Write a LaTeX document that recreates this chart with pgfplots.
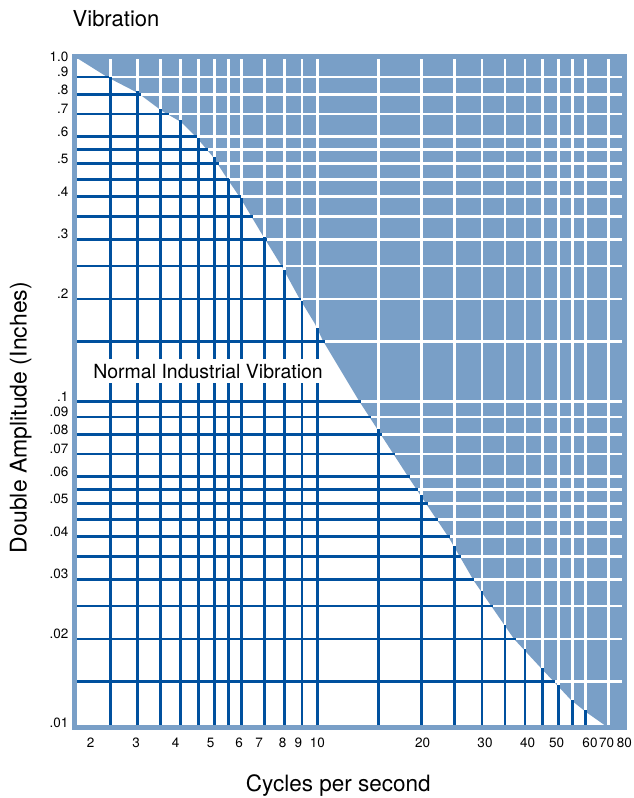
\documentclass[border=0pt]{standalone}
\usepackage{fontspec}
\setmainfont{TeX Gyre Heros}
\usepackage{pgfplots}
\pgfplotsset{compat=1.18}
\definecolor{vblue}{RGB}{121,159,199}
\definecolor{dblue}{RGB}{0,80,158}
\begin{document}
\begin{tikzpicture}
\begin{axis}[
  name=ax,
  scale only axis, width=550pt, height=671pt,
  xmode=log, ymode=log,
  xmin=1.9655, xmax=77.79, ymin=0.010986, ymax=1.0337,
  axis on top,
  axis line style={line width=5pt, draw=vblue, line join=miter},
  tick style={draw=none},
  major tick length=0pt, minor tick length=0pt,
  xtick={2.19,2.966,3.867,4.887,5.906,6.752,7.911,8.780,9.970,20.17,30.60,40.72,49.43,61.76,69.07,77.7},
  xticklabels={2,3,4,5,6,7,8,9,10,20,30,40,50,60,70,80},
  ytick={0.011,0.02,0.03,0.04,0.05,0.06,0.07,0.08,0.09,0.1,0.2,0.3,0.4,0.5,0.6,0.7,0.8,0.9,1.0},
  yticklabels={.01,.02,.03,.04,.05,.06,.07,.08,.09,.1,.2,.3,.4,.5,.6,.7,.8,.9,1.0},
  xticklabel style={font=\fontsize{13.5}{13.5}\selectfont, anchor=north, inner sep=0pt, yshift=-10.5pt},
  yticklabel style={font=\fontsize{13.5}{13.5}\selectfont, anchor=east, inner sep=0pt, xshift=-6pt, yshift=5pt},
  unbounded coords=jump,
]
\coordinate (sw) at (rel axis cs:0,0);
\coordinate (ne) at (rel axis cs:1,1);
\coordinate (nw) at (rel axis cs:0,1);

% severe region (above the boundary curve)
\addplot[fill=vblue, draw=none] coordinates {
 (1.9655,1.0337) (2.459,0.8967) (3.005,0.8073) (3.529,0.7146) (4.007,0.6633)
 (4.460,0.5952) (4.964,0.5234) (5.488,0.4479) (5.985,0.3938) (6.797,0.3171)
 (7.911,0.2468) (8.762,0.2042) (9.818,0.1689) (10.357,0.1506) (13.18,0.1003)
 (18.41,0.0595) (24.05,0.03966) (28.43,0.02962) (37.15,0.02001) (44.21,0.01655)
 (49.20,0.01475) (54.40,0.01323) (60.13,0.01220) (69.66,0.010986)
 (77.79,0.010986) (77.79,1.0337)
};

% white grid lines (visible only on the blue region)
\addplot[white, line width=2.8pt] coordinates {
 (1.9,0.9)(80,0.9) (nan,nan) (1.9,0.8)(80,0.8) (nan,nan) (1.9,0.7)(80,0.7) (nan,nan)
 (1.9,0.6)(80,0.6) (nan,nan) (1.9,0.55)(80,0.55) (nan,nan) (1.9,0.5)(80,0.5) (nan,nan)
 (1.9,0.45)(80,0.45) (nan,nan) (1.9,0.4)(80,0.4) (nan,nan) (1.9,0.35)(80,0.35) (nan,nan)
 (1.9,0.3)(80,0.3) (nan,nan) (1.9,0.25)(80,0.25) (nan,nan) (1.9,0.2)(80,0.2) (nan,nan)
 (1.9,0.15)(80,0.15) (nan,nan) (1.9,0.1)(80,0.1) (nan,nan) (1.9,0.09)(80,0.09) (nan,nan)
 (1.9,0.08)(80,0.08) (nan,nan) (1.9,0.07)(80,0.07) (nan,nan) (1.9,0.06)(80,0.06) (nan,nan)
 (1.9,0.055)(80,0.055) (nan,nan) (1.9,0.05)(80,0.05) (nan,nan) (1.9,0.045)(80,0.045) (nan,nan)
 (1.9,0.04)(80,0.04) (nan,nan) (1.9,0.035)(80,0.035) (nan,nan) (1.9,0.03)(80,0.03) (nan,nan)
 (1.9,0.025)(80,0.025) (nan,nan) (1.9,0.02)(80,0.02) (nan,nan) (1.9,0.015)(80,0.015)
};
\addplot[white, line width=2.8pt] coordinates {
 (2.5,0.0105)(2.5,1.05) (nan,nan) (3,0.0105)(3,1.05) (nan,nan) (3.5,0.0105)(3.5,1.05) (nan,nan)
 (4,0.0105)(4,1.05) (nan,nan) (4.5,0.0105)(4.5,1.05) (nan,nan) (5,0.0105)(5,1.05) (nan,nan)
 (5.5,0.0105)(5.5,1.05) (nan,nan) (6,0.0105)(6,1.05) (nan,nan) (7,0.0105)(7,1.05) (nan,nan)
 (8,0.0105)(8,1.05) (nan,nan) (9,0.0105)(9,1.05) (nan,nan) (10,0.0105)(10,1.05) (nan,nan)
 (15,0.0105)(15,1.05) (nan,nan) (20,0.0105)(20,1.05) (nan,nan) (25,0.0105)(25,1.05) (nan,nan)
 (30,0.0105)(30,1.05) (nan,nan) (35,0.0105)(35,1.05) (nan,nan) (40,0.0105)(40,1.05) (nan,nan)
 (45,0.0105)(45,1.05) (nan,nan) (50,0.0105)(50,1.05) (nan,nan) (55,0.0105)(55,1.05) (nan,nan)
 (60,0.0105)(60,1.05) (nan,nan) (70,0.0105)(70,1.05)
};

% dark blue grid lines (normal region, up to the boundary)
\addplot[dblue, line width=2.8pt] coordinates {
 (1.9,0.9)(2.469,0.9) (nan,nan) (1.9,0.8)(3.073,0.8) (nan,nan) (1.9,0.7)(3.693,0.7) (nan,nan)
 (1.9,0.6)(4.469,0.6) (nan,nan) (1.9,0.55)(4.810,0.55) (nan,nan) (1.9,0.5)(5.164,0.5) (nan,nan)
 (1.9,0.45)(5.525,0.45) (nan,nan) (1.9,0.4)(5.983,0.4) (nan,nan) (1.9,0.35)(6.477,0.35) (nan,nan)
 (1.9,0.3)(7.098,0.3) (nan,nan) (1.9,0.25)(7.927,0.25) (nan,nan) (1.9,0.2)(8.964,0.2) (nan,nan)
 (1.9,0.15)(10.485,0.15) (nan,nan) (1.9,0.1)(13.34,0.1) (nan,nan) (1.9,0.09)(14.27,0.09) (nan,nan)
 (1.9,0.08)(15.39,0.08) (nan,nan) (1.9,0.07)(16.76,0.07) (nan,nan) (1.9,0.06)(18.49,0.06) (nan,nan)
 (1.9,0.055)(19.59,0.055) (nan,nan) (1.9,0.05)(20.86,0.05) (nan,nan) (1.9,0.045)(22.35,0.045) (nan,nan)
 (1.9,0.04)(24.16,0.04) (nan,nan) (1.9,0.035)(26.10,0.035) (nan,nan) (1.9,0.03)(28.51,0.03) (nan,nan)
 (1.9,0.025)(32.24,0.025) (nan,nan) (1.9,0.02)(37.54,0.02) (nan,nan) (1.9,0.015)(48.93,0.015)
};
\addplot[dblue, line width=2.8pt] coordinates {
 (2.5,0.0105)(2.5,0.8979) (nan,nan) (3,0.0105)(3,0.8163) (nan,nan) (3.5,0.0105)(3.5,0.7263) (nan,nan)
 (4,0.0105)(4,0.6708) (nan,nan) (4.5,0.0105)(4.5,0.5948) (nan,nan) (5,0.0105)(5,0.5227) (nan,nan)
 (5.5,0.0105)(5.5,0.4510) (nan,nan) (6,0.0105)(6,0.3962) (nan,nan) (7,0.0105)(7,0.3050) (nan,nan)
 (8,0.0105)(8,0.2441) (nan,nan) (9,0.0105)(9,0.1972) (nan,nan) (10,0.0105)(10,0.1639) (nan,nan)
 (15,0.0105)(15,0.08279) (nan,nan) (20,0.0105)(20,0.05301) (nan,nan) (25,0.0105)(25,0.03746) (nan,nan)
 (30,0.0105)(30,0.02767) (nan,nan) (35,0.0105)(35,0.02206) (nan,nan) (40,0.0105)(40,0.01865) (nan,nan)
 (45,0.0105)(45,0.01641) (nan,nan) (50,0.0105)(50,0.01464) (nan,nan) (55,0.0105)(55,0.01325) (nan,nan)
 (60,0.0105)(60,0.01235)
};

\node[fill=white, inner xsep=4pt, inner ysep=5pt, font=\fontsize{19.5}{19.5}\selectfont]
  at (axis cs:4.80,0.1228) {Normal Industrial Vibration};
\end{axis}
\node[anchor=base west, inner sep=0pt, font=\fontsize{22}{22}\selectfont] at ([xshift=-2pt,yshift=29.8pt]nw) {Vibration};
\node[anchor=base, inner sep=0pt, font=\fontsize{22.5}{22.5}\selectfont] at ([xshift=263.8pt,yshift=-64pt]sw) {Cycles per second};
\node[anchor=base, rotate=90, inner sep=0pt, font=\fontsize{23}{23}\selectfont] at ([xshift=-47.8pt,yshift=310pt]sw) {Double Amplitude (Inches)};
\pgfresetboundingbox
\path ([xshift=-74.5pt,yshift=-70.5pt]sw) rectangle ([xshift=9.5pt,yshift=56.5pt]ne);
\end{tikzpicture}
\end{document}
